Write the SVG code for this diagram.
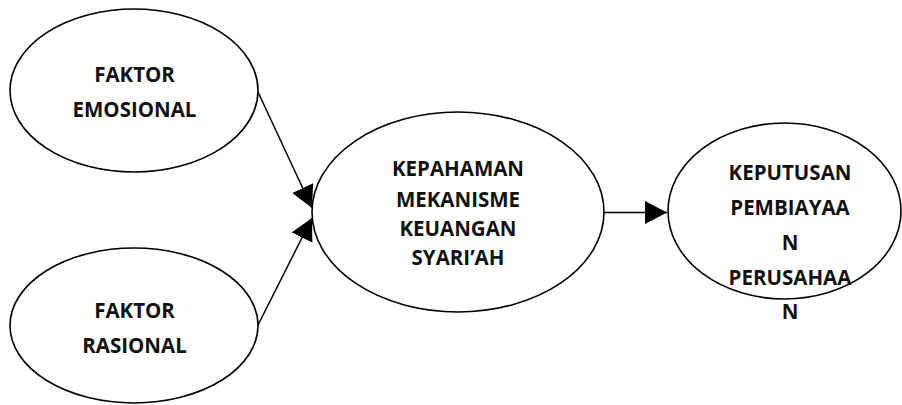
<svg xmlns="http://www.w3.org/2000/svg" width="902" height="405" viewBox="0 0 902 405">
<style>
.node ellipse{fill:#fff;stroke:#000;stroke-width:1.6}
.node text{font-family:"Open Sans","Liberation Sans",Arial,sans-serif;font-weight:bold;font-size:20.5px;fill:#111;text-anchor:middle}
.edge{stroke:#000;stroke-width:1.5;fill:none}
</style>
<defs>
<marker id="arr" markerUnits="userSpaceOnUse" markerWidth="24" markerHeight="24" refX="22" refY="11.5" orient="auto">
<path d="M0,0 L22,11.5 L0,23 Z" fill="#000"/>
</marker>
</defs>
<rect width="902" height="405" fill="#fff"/>
<g id="connectors">
<line class="edge" x1="258" y1="92" x2="312" y2="208" marker-end="url(#arr)"/>
<line class="edge" x1="258" y1="325" x2="312" y2="218" marker-end="url(#arr)"/>
<line class="edge" x1="604" y1="212.5" x2="667" y2="212.5" marker-end="url(#arr)"/>
</g>
<g id="emosional" class="node">
<ellipse cx="134" cy="90.5" rx="124" ry="81.5"/>
<text x="134.5" y="82">FAKTOR</text>
<text x="134.5" y="117">EMOSIONAL</text>
</g>
<g id="rasional" class="node">
<ellipse cx="134" cy="325.5" rx="124" ry="77.5"/>
<text x="134.5" y="318">FAKTOR</text>
<text x="134.5" y="353">RASIONAL</text>
</g>
<g id="kepahaman" class="node">
<ellipse cx="458" cy="212" rx="146" ry="100"/>
<text x="458" y="176">KEPAHAMAN</text>
<text x="458" y="206.5">MEKANISME</text>
<text x="458" y="236">KEUANGAN</text>
<text x="458" y="265">SYARI’AH</text>
</g>
<g id="keputusan" class="node">
<ellipse cx="784.5" cy="211" rx="116.5" ry="88"/>
<text x="790" y="180">KEPUTUSAN</text>
<text x="790" y="214.5">PEMBIAYAA</text>
<text x="790" y="250">N</text>
<text x="790" y="285">PERUSAHAA</text>
<text x="790" y="318.5">N</text>
</g>
</svg>
